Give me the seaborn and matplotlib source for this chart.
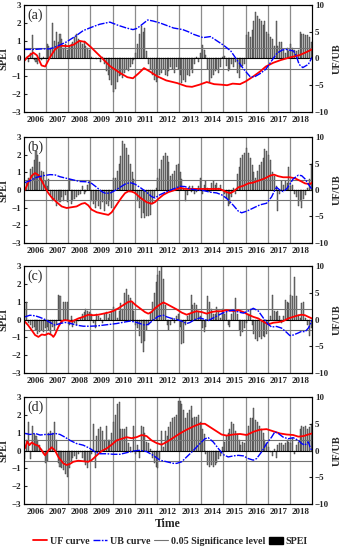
import matplotlib
matplotlib.use("Agg")
import matplotlib.pyplot as plt
import seaborn as sns
import numpy as np
import pandas as pd
from matplotlib.lines import Line2D
from matplotlib.patches import Patch

years = list(range(2006, 2019))
panel_labels = ["(a)", "(b)", "(c)", "(d)"]

# monthly SPEI, Jan 2006 - Dec 2018 (12 values per row)
spei_a = [
    -0.1, 0.1, -0.2, 0.3, 1.3, -0.1, -0.2, -0.3, 0.3, -0.1, 0.1, 0.0,
    0.8, 0.7, 0.6, 2.0, 1.0, 1.5, 0.9, 1.4, 1.1, 0.6, 0.8, 0.5,
    0.7, 0.8, 0.9, 1.2, 1.4, 1.1, 0.9, 0.8, 1.0, 0.7, 0.6, 0.5,
    0.1, 0.05, 0.0, -0.05, 0.0, -0.2, 0.1, -0.3, -0.7, -0.9, -1.2, -1.5,
    -1.9, -1.7, -1.3, -1.0, -0.9, -1.1, -0.8, -0.6, -0.7, -0.5, -0.3, -0.1,
    0.3, 0.8, 1.4, 1.8, 1.5, 1.7, 0.4, -0.3, -0.6, -0.9, -1.2, -1.3,
    -1.1, -0.9, -0.8, -0.6, -0.9, -1.0, -0.7, -0.5, -0.6, -0.8, -0.5, -0.6,
    -0.9, -1.4, -1.2, -1.3, -0.9, -1.0, -0.6, -0.8, -0.3, 0.1, -0.2, 0.3,
    0.75, 0.5, 0.2, -0.6, -1.3, -1.1, -0.9, -0.7, -0.6, -0.8, -0.5, 0.1,
    0.15, -0.4, -0.7, -0.6, -0.3, -0.5, -0.2, -0.8, -1.1, -0.5, -0.4, -0.3,
    1.3, 1.5, 1.2, 1.6, 2.1, 2.6, 2.4, 2.2, 2.1, 1.9, 2.1, 1.5,
    1.4, 1.2, 1.1, 0.7, 2.1, 0.7, 0.9, 0.9, 0.5, 0.3, 0.6, 0.4,
    0.8, 0.6, 0.5, 0.4, 0.5, 1.5, 1.4, 1.4, 1.3, 1.3, 1.2, 0.9,
]
spei_b = [
    0.1, 0.4, 0.7, 1.2, 1.3, 1.7, 2.2, 2.0, 1.6, 1.1, 1.0, 0.5,
    0.2, 0.6, -0.3, -0.6, -0.5, -0.9, -0.6, -0.7, -0.4, -0.6, -0.3, -0.7,
    0.6, -0.8, -0.6, -0.5, -0.4, -0.3, -0.2, 0.2, -0.2, -0.1, 0.3, 0.5,
    -0.6, -0.8, -1.0, -0.6, -0.9, -1.1, -0.7, -1.2, -0.8, -0.9, -0.6, -1.0,
    0.7, 0.7, 1.1, 1.5, 1.9, 2.8, 2.6, 2.4, 2.0, 1.5, 1.0, 0.6,
    -0.2, -0.6, -1.0, -1.6, -1.3, -1.6, -1.5, -1.5, -1.4, -0.8, -0.4, 0.1,
    0.7, 1.2, 1.7, 1.9, 2.1, 1.9, 1.6, 0.8, 0.9, 1.1, 1.4, 1.5,
    1.0, 0.6, 0.1, -0.6, -0.3, 0.2, -0.1, 0.2, -0.2, -0.1, 0.2, 0.7,
    -0.2, 0.3, 0.5, 0.1, -0.1, 0.4, 0.5, 0.3, 0.4, 0.1, 0.3, 0.0,
    -0.2, -0.5, -0.9, -0.8, -0.4, 0.1, -0.2, 0.9, 1.3, 1.8, 2.0, 2.1,
    2.4, 2.1, 1.8, 1.4, 1.0, 0.7, 1.1, 1.4, 1.6, 1.8, 2.3, 2.2,
    2.0, 1.7, 1.0, 0.8, 0.2, -1.2, -0.2, 0.5, 0.3, 0.5, 0.4, 1.3,
    0.2, 0.3, -0.2, -0.4, -0.9, -0.6, -1.0, -0.5, -0.3, 0.1, 0.6, 1.5,
]
spei_c = [
    0.9, 1.0, -0.2, -0.3, -0.5, -0.4, -0.6, -0.8, -0.7, -0.6, -0.7, -0.5,
    -0.4, -0.6, -0.8, -0.4, -0.6, -0.3, 1.4, 1.3, -0.2, 1.0, 1.0, 1.0,
    -0.3, 0.2, -0.4, -0.2, -0.3, -0.1, 0.1, 0.3, 0.4, 0.6, 0.5, 0.4,
    0.3, -0.2, -0.5, 0.3, 0.2, 0.1, -0.2, 0.3, 0.4, 0.1, 0.3, 0.5,
    0.7, 0.6, 0.1, 0.5, 0.9, 0.6, 1.5, 1.7, 1.4, 1.2, 1.0, 0.5,
    -0.3, -0.5, -0.9, -1.3, -1.8, -1.2, -0.6, -0.3, 0.4, 1.0, 1.5, 2.1,
    2.5, 2.7, 3.0, 2.3, 0.8, -0.3, -0.6, -0.3, 0.1, -0.2, 0.2, 0.3,
    -0.4, -1.4, -1.3, -0.3, 0.2, 0.3, 1.4, 0.8, 0.9, 0.8, 0.5, 0.2,
    -0.5, -0.7, -0.4, 1.3, 1.0, 0.6, 0.3, 0.3, 0.7, 0.5, 0.1, 0.6,
    0.3, 0.4, -0.3, -0.4, 0.3, 0.5, 1.2, 0.3, -0.6, -0.9, -0.7, -0.5,
    -0.2, 0.3, 0.6, -0.3, -0.8, -1.1, -1.2, -1.0, -1.1, -0.9, -1.0, -0.8,
    -0.2, 0.2, 1.4, 0.5, 0.4, 0.5, 0.2, -0.2, 0.2, 1.1, 1.0, 0.9,
    1.4, 1.3, 2.4, 1.3, 0.2, 0.1, 0.9, 1.0, 0.1, -0.3, -0.9, -0.5,
]
spei_d = [
    -0.5, 0.6, 1.6, -0.5, 1.4, 0.9, 0.8, 0.6, 0.3, 0.1, -0.2, -0.7,
    -0.6, 1.0, 1.1, 1.0, 1.6, 0.6, -0.7, -0.9, -1.0, -1.1, -1.3, -1.5,
    -1.0, -0.6, -0.4, -0.3, -0.5, -0.2, -0.1, -0.4, -0.6, -0.8, -1.0, -0.6,
    -0.2, 1.5, -1.0, 0.8, 1.2, 1.3, 1.1, 0.6, 1.4, 0.6, 0.6, 1.0,
    1.6, 2.0, 2.6, 2.7, 1.2, 1.2, 1.2, 1.3, 0.4, 0.2, -0.1, 1.4,
    -0.2, 0.3, -0.4, 1.4, 1.3, 1.0, 0.5, 0.4, 0.1, -0.4, -0.7, -0.9,
    -1.0, -0.5, 1.1, 0.2, 1.1, 0.8, 1.3, 1.6, 1.8, 1.9, 2.0, 2.8,
    2.8, 2.6, 2.3, 1.8, 2.1, 2.3, 2.5, 1.8, 1.9, 1.9, 2.0, 1.6,
    1.2, 0.9, -0.2, -0.8, -0.9, -0.8, -0.9, -0.8, -0.7, -0.5, -0.3, 0.2,
    0.5, 0.8, 1.0, 1.2, 1.6, 1.5, 1.1, 0.9, 0.6, 0.3, 0.5, 0.4,
    0.9, 1.4, 1.8, 1.8, 2.4, 1.7, 1.6, 1.4, 1.2, 1.0, 0.6, 0.4,
    0.2, -0.1, -0.3, 0.1, -0.4, 0.3, 0.4, 0.4, 0.3, 0.4, 0.6, 0.5,
    0.4, 0.7, -0.2, 0.3, 0.5, 1.2, 1.4, 1.3, 1.4, 1.2, 1.3, 1.5,
]

# UF / UB curves, read at (months since Jan 2006, value)
uf_a_m = [0, 2, 5, 7, 9.5, 11.5, 14, 17, 19.5, 24, 27, 30, 33, 36, 41, 46.5, 52, 56, 59, 62, 65, 68,
          72, 77, 83, 88, 91, 95, 99, 103, 107, 110, 113, 117, 120, 124, 128, 131, 135, 139, 144, 149, 153, 156]
uf_a = [-0.5, 0.3, 1.1, 0.6, -1.3, -1.5, 0.2, 1.8, 2.4, 2.3, 2.6, 3.3, 3.1, 2.2, 0.5, -1.4, -2.7, -3.5, -3.7, -2.8, -1.8, -2.4,
        -3.3, -4.1, -4.6, -5.2, -5.3, -4.9, -4.4, -4.8, -4.9, -5.0, -4.7, -4.8, -4.3, -3.4, -2.4, -1.5, -0.8, -0.3, 0.2, 0.6, 1.2, 1.7]
ub_a_m = [0, 6, 10, 14, 18, 23, 28, 32, 37, 41, 46.5, 51, 55.5, 59, 61, 63, 67, 70, 74, 81, 86, 89,
          92, 97, 101, 104.5, 108, 112, 115, 119, 122.5, 125, 128, 131, 134, 137, 140, 142, 146, 147.5, 149, 151, 154, 156]
ub_a = [1.7, 1.7, 1.8, 1.8, 2.3, 3.1, 4.2, 5.2, 5.9, 6.4, 6.8, 6.2, 5.7, 5.4, 5.6, 6.1, 7.2, 7.0, 6.6, 5.7, 5.4, 5.0,
        4.5, 3.9, 4.1, 3.3, 2.5, 1.4, -0.1, -2.0, -3.4, -3.4, -2.8, -2.0, -0.5, 1.0, 1.6, 1.7, 1.4, 0.5, -1.1, -1.7, -1.1, 0.2]

uf_b_m = [0.5, 2.3, 4.2, 6.0, 7.8, 9.6, 11.4, 13.2, 15.0, 17.7, 20.4, 23.1, 25.8, 28.5, 31.2, 33.0, 34.8, 36.6, 39.4, 43.0,
          45.7, 47.5, 49.3, 51.1, 52.9, 54.7, 56.5, 58.3, 60.1, 62.8, 66.4, 69.1, 70.9, 72.7, 75.5, 78.2, 80.9, 84.5, 87.2,
          90.8, 95.3, 100.7, 106.1, 107.9, 109.7, 111.6, 113.4, 116.1, 118.8, 121.5, 124.2, 126.9, 130.5, 133.2, 135.4,
          137.7, 140.4, 144.0, 146.8, 149.5, 152.2, 154.9, 156.0]
uf_b = [0.0, 1.4, 2.7, 3.2, 2.8, 1.75, 0.5, -0.6, -1.4, -2.3, -3.1, -3.4, -3.25, -3.1, -2.6, -2.45, -2.9, -3.7, -4.2, -4.5,
        -4.7, -4.2, -3.25, -2.3, -1.4, -0.6, -0.25, -0.3, -0.55, -1.4, -2.3, -2.6, -2.3, -1.7, -0.9, -0.4, -0.1, 0.4, 0.2,
        0.2, 0.2, 0.2, 0.2, -0.1, -0.4, -0.6, -0.3, 0.5, 0.8, 1.25, 1.4, 1.75, 2.2, 2.7, 2.9,
        2.6, 2.4, 2.4, 2.2, 1.75, 1.25, 1.1, 1.4]
ub_b_m = [0.5, 3.2, 6.9, 10.5, 14.1, 16.8, 19.5, 23.1, 26.7, 30.3, 33.9, 36.6, 39.4, 42.1, 43.9, 46.6, 49.3, 52.0, 54.7,
          57.4, 60.1, 62.8, 66.4, 69.1, 70.9, 73.6, 77.3, 80.9, 84.5, 87.2, 89.9, 93.5, 97.1, 100.7, 104.3, 107.0, 109.7,
          113.4, 116.1, 117.9, 120.6, 124.2, 127.8, 131.4, 134.1, 135.9, 136.8, 138.6, 140.4, 142.2, 144.0, 145.8, 148.6,
          150.4, 152.2, 154.0, 155.8]
ub_b = [1.4, 1.75, 2.4, 2.7, 2.9, 2.85, 2.5, 2.2, 1.9, 1.6, 1.55, 1.25, 0.5, -0.3, -0.6, -0.6, -0.1, 0.5, 1.1,
        1.4, 1.1, 0.5, -0.4, -1.25, -1.5, -0.9, -0.3, 0.2, 0.7, 0.65, 0.2, 0.0, -0.1, -0.4, -0.55, -0.9, -1.55,
        -2.9, -4.0, -4.3, -4.0, -3.4, -2.8, -2.5, -1.3, 0.0, 0.5, 0.0, -0.3, 0.2, 1.1, 2.1, 2.8,
        2.7, 2.1, 1.1, 0.2]

uf_c_m = [0.5, 2.3, 4.2, 6.0, 7.8, 9.6, 11.4, 13.2, 15.0, 15.9, 16.8, 18.6, 20.4, 22.2, 24.0, 25.8, 27.6, 29.4, 32.1,
          34.8, 37.5, 40.3, 43.0, 45.7, 48.4, 51.1, 53.8, 56.5, 58.3, 60.1, 62.8, 65.5, 67.3, 69.1, 70.9, 73.6, 75.5,
          77.3, 80.0, 82.7, 85.4, 88.1, 90.8, 93.5, 96.2, 98.9, 101.6, 104.3, 107.0, 109.7, 113.4, 116.1, 118.8, 121.5,
          124.2, 126.9, 129.6, 132.3, 135.0, 137.7, 140.4, 143.1, 145.8, 148.6, 150.4, 152.2, 154.0, 156.0]
uf_c = [-0.4, -1.1, -2.0, -2.9, -3.25, -2.8, -2.9, -2.6, -2.9, -3.25, -2.8, -1.4, -0.3, -0.1, -0.2, -0.4, -0.1, 0.2, 0.5,
        0.9, 0.8, 0.9, 1.1, 1.3, 1.6, 2.1, 2.7, 3.3, 3.4, 2.8, 2.1, 1.4, 1.1, 1.4, 2.1, 2.8, 3.2,
        2.9, 2.4, 1.9, 1.3, 0.9, 1.25, 1.55, 1.4, 1.1, 1.4, 1.55, 1.55, 1.75, 1.6, 1.75, 1.4, 0.9,
        0.5, 0.2, -0.4, -0.9, -0.6, -0.5, -0.3, 0.2, 0.5, 0.8, 0.9, 0.8, 0.5, 0.2]
ub_c_m = [0.5, 3.2, 6.0, 8.7, 11.4, 14.1, 16.8, 19.5, 22.2, 24.9, 28.5, 32.1, 35.7, 39.4, 43.0, 46.6, 50.2, 54.7, 57.4,
          60.1, 62.8, 65.5, 67.3, 70.0, 72.7, 75.5, 77.3, 80.0, 82.7, 85.4, 88.1, 89.9, 92.6, 95.3, 98.0, 99.8, 102.5,
          105.2, 107.9, 110.6, 113.4, 116.1, 118.8, 121.5, 124.2, 126.9, 129.6, 132.3, 134.1, 136.8, 139.5, 142.2,
          144.0, 145.8, 148.6, 150.4, 152.2, 154.0, 155.2, 156.0]
ub_c = [0.5, 0.8, 0.7, 0.4, 0.0, -0.55, -1.05, -0.75, -0.55, -0.7, -1.05, -1.25, -1.25, -1.2, -1.05, -0.9, -0.75, -0.45, -0.3,
        -0.45, -0.75, -1.05, -0.9, -0.1, 0.6, 0.8, 0.5, 0.2, 0.0, -0.3, -0.75, -0.55, 0.0, 0.3, 0.0, -0.2, 0.3,
        0.8, 1.25, 1.6, 1.75, 1.4, 1.2, 1.6, 2.1, 1.6, 0.3, -0.9, -1.4, -1.3, -1.6, -2.4,
        -3.0, -2.9, -2.5, -2.2, -2.3, -1.6, -0.8, -0.1]

uf_d_m = [0.5, 1.8, 2.9, 4.2, 6.0, 7.8, 9.6, 11.4, 13.2, 15.0, 16.8, 18.6, 21.3, 23.1, 24.9, 26.7, 29.4, 32.1, 34.8,
          36.6, 39.4, 42.1, 44.8, 47.5, 50.2, 52.9, 55.6, 58.3, 61.0, 63.7, 66.4, 69.1, 71.8, 74.5, 77.3, 80.9, 84.5,
          88.1, 91.7, 95.3, 98.0, 100.7, 104.3, 107.0, 109.7, 113.4, 117.0, 120.6, 124.2, 127.8, 131.4, 135.0, 138.6,
          142.2, 145.8, 148.6, 151.3, 154.0, 156.0]
uf_d = [0.4, 1.7, 1.0, 1.5, 1.1, 0.9, 0.0, -0.9, 0.0, 0.6, 0.0, -1.2, -2.4, -2.7, -2.5, -2.1, -1.9, -2.0, -2.1,
        -1.8, -0.9, -0.1, 0.4, 1.1, 1.9, 2.2, 2.5, 2.3, 2.5, 2.9, 2.7, 1.9, 1.4, 1.1, 1.6, 2.4, 3.2,
        3.9, 4.5, 5.0, 5.0, 4.4, 3.6, 3.0, 2.8, 3.0, 3.1, 2.9, 3.5, 3.9, 4.0, 3.6, 3.2,
        3.0, 2.9, 2.6, 2.7, 3.0, 3.2]
ub_d_m = [0.5, 3.2, 6.0, 8.7, 11.4, 14.1, 16.8, 19.5, 22.2, 24.9, 28.5, 32.1, 35.7, 38.4, 41.2, 44.8, 48.4, 52.0, 55.6,
          59.2, 62.8, 66.4, 70.0, 73.6, 77.3, 80.9, 82.7, 85.4, 88.1, 91.7, 95.3, 98.0, 99.8, 102.5, 105.2, 107.9,
          110.6, 113.4, 116.1, 118.8, 121.5, 124.2, 126.0, 128.7, 131.4, 134.1, 135.9, 137.7, 140.4, 143.1, 145.8,
          148.6, 150.4, 152.2, 153.1, 154.0, 154.9, 156.0]
ub_d = [3.2, 3.0, 3.2, 2.9, 3.0, 3.0, 3.2, 3.0, 2.5, 1.9, 1.3, 1.0, 0.4, -0.25, -0.6, -0.6, -0.7, -0.7, -0.4,
        -0.1, 0.05, -0.2, -0.9, -1.8, -2.1, -2.4, -2.4, -2.1, -1.2, 0.0, 1.3, 2.2, 2.4, 1.6, 0.4, -0.75,
        -1.2, -1.0, -0.9, -1.0, -1.5, -1.8, -1.5, -0.25, 1.3, 2.5, 3.5, 3.2, 2.5, 2.2, 2.4,
        1.9, 1.3, 1.0, 1.4, 1.6, 0.7, -0.1]

spei_all = [spei_a, spei_b, spei_c, spei_d]
uf_all = [(uf_a_m, uf_a), (uf_b_m, uf_b), (uf_c_m, uf_c), (uf_d_m, uf_d)]
ub_all = [(ub_a_m, ub_a), (ub_b_m, ub_b), (ub_c_m, ub_c), (ub_d_m, ub_d)]
sig_level = 1.96

sns.set_style("ticks")
plt.rcParams['font.family'] = ['Liberation Serif', 'DejaVu Serif']
plt.rcParams['axes.linewidth'] = 0.8

fig = plt.figure(figsize=(3.41, 5.5), dpi=100)
bottoms = [0.7964, 0.5582, 0.3218, 0.0836]
heights = [0.1945, 0.1927, 0.1945, 0.1945]

ub_dash = (0, (5, 1, 1.2, 1))
months = np.arange(156) + 0.5

for i in range(4):
    ax = fig.add_axes([0.0704, bottoms[i], 0.8446, heights[i]])
    df = pd.DataFrame({"month": months, "spei": spei_all[i]})
    sns.barplot(data=df, x="month", y="spei", native_scale=True, width=0.55,
                color="0.5", edgecolor="0.2", linewidth=0.3, errorbar=None, ax=ax)
    ax.axhline(0, color="k", lw=0.8, zorder=3)
    for k in range(1, 13):
        ax.axvline(12 * k, color="0.55", lw=0.9, zorder=0.5)
    ax.set_xlim(0, 156)
    ax.set_ylim(-3, 3)
    ax.set_yticks([-3, -2, -1, 0, 1, 2, 3])
    ax.set_xticks([6 + 12 * k for k in range(13)])
    ax.set_xticklabels([str(y) for y in years])
    ax.tick_params(axis="x", length=0, pad=3, labelsize=6.5)
    ax.tick_params(axis="y", direction="in", length=2, pad=2, labelsize=6.5)
    for lab in ax.get_xticklabels() + ax.get_yticklabels():
        lab.set_fontweight("bold")
    ax.set_xlabel("")
    ax.set_ylabel("SPEI", fontsize=7.5, fontweight="bold", labelpad=2)
    ax.text(0.01, 0.97, panel_labels[i], transform=ax.transAxes, va="top", ha="left", fontsize=10)

    ax2 = ax.twinx()
    ax2.axhline(sig_level, color="0.45", lw=0.8)
    ax2.axhline(-sig_level, color="0.45", lw=0.8)
    sns.lineplot(x=uf_all[i][0], y=uf_all[i][1], ax=ax2, color="red", lw=1.3)
    sns.lineplot(x=ub_all[i][0], y=ub_all[i][1], ax=ax2, color="blue", lw=1.0, linestyle=ub_dash)
    ax2.set_ylim(-10, 10)
    ax2.set_yticks([-10, -5, 0, 5, 10])
    ax2.tick_params(axis="y", direction="in", length=2, pad=2, labelsize=6.5)
    for lab in ax2.get_yticklabels():
        lab.set_fontweight("bold")
    ax2.set_ylabel("UF/UB", fontsize=7.5, fontweight="bold", labelpad=3)
    for sp in ax2.spines.values():
        sp.set_color("k")

    if i == 3:
        ax.set_xlabel("Time", fontsize=8.5, fontweight="bold", labelpad=1)

handles = [
    Line2D([], [], color="red", lw=1.3),
    Line2D([], [], color="blue", lw=1.0, linestyle=ub_dash),
    Line2D([], [], color="0.45", lw=0.8),
    Patch(facecolor="black", edgecolor="black"),
]
labels = ["UF curve", "UB curve", "0.05 Significance level", "SPEI"]
fig.legend(handles, labels, loc="center", bbox_to_anchor=(0.5, 0.016), ncol=4, frameon=False,
           prop={"weight": "bold", "size": 7.2}, handlelength=1.4, handletextpad=0.25,
           columnspacing=0.4, borderaxespad=0)

fig.savefig("out.png", dpi=100)
